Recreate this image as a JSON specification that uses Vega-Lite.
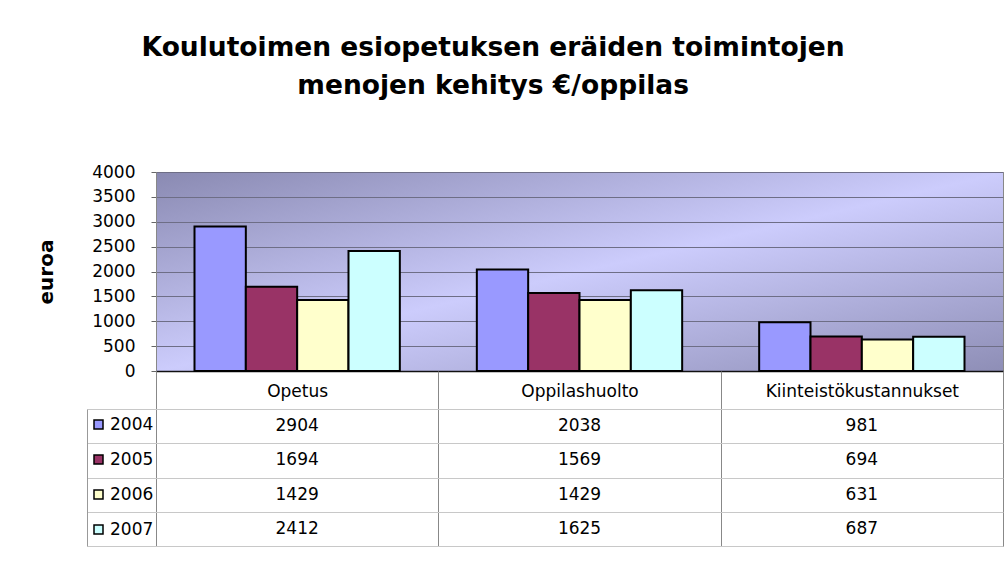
{
  "$schema": "https://vega.github.io/schema/vega-lite/v6.json",
  "padding": {"left": 36, "top": 35, "right": 4, "bottom": 20},
  "background": "white",
  "config": {"font": "DejaVu Sans"},
  "title": {
    "text": ["Koulutoimen esiopetuksen eräiden toimintojen", "menojen kehitys €/oppilas"],
    "font": "DejaVu Sans",
    "fontSize": 26.5,
    "fontWeight": "bold",
    "lineHeight": 38,
    "color": "black",
    "anchor": "middle",
    "dx": -27,
    "offset": 63
  },
  "data": {
    "values": [
      {"category": "Opetus", "year": "2004", "value": 2904},
      {"category": "Opetus", "year": "2005", "value": 1694},
      {"category": "Opetus", "year": "2006", "value": 1429},
      {"category": "Opetus", "year": "2007", "value": 2412},
      {"category": "Oppilashuolto", "year": "2004", "value": 2038},
      {"category": "Oppilashuolto", "year": "2005", "value": 1569},
      {"category": "Oppilashuolto", "year": "2006", "value": 1429},
      {"category": "Oppilashuolto", "year": "2007", "value": 1625},
      {"category": "Kiinteistökustannukset", "year": "2004", "value": 981},
      {"category": "Kiinteistökustannukset", "year": "2005", "value": 694},
      {"category": "Kiinteistökustannukset", "year": "2006", "value": 631},
      {"category": "Kiinteistökustannukset", "year": "2007", "value": 687}
    ]
  },
  "bounds": "flush",
  "spacing": 38,
  "resolve": {"scale": {"x": "shared"}, "legend": {"fill": "independent"}},
  "vconcat": [
    {
      "width": 847,
      "height": 199,
      "view": {
        "stroke": "#888888",
        "fill": {
          "gradient": "linear",
          "x1": 0, "y1": 0, "x2": 1, "y2": 1,
          "stops": [
            {"offset": 0, "color": "#8A8AB2"},
            {"offset": 0.5, "color": "#CCCCFC"},
            {"offset": 1, "color": "#8E8EB6"}
          ]
        }
      },
      "mark": {"type": "bar", "stroke": "black", "strokeWidth": 2},
      "encoding": {
        "x": {
          "field": "category",
          "type": "nominal",
          "sort": ["Opetus", "Oppilashuolto", "Kiinteistökustannukset"],
          "scale": {"paddingInner": 0, "paddingOuter": 0},
          "axis": {"title": null, "labels": false, "ticks": false, "domainColor": "#111111", "domainWidth": 1.5}
        },
        "xOffset": {
          "field": "year",
          "type": "nominal",
          "scale": {"paddingInner": 0, "paddingOuter": 0.75}
        },
        "y": {
          "field": "value",
          "type": "quantitative",
          "scale": {"domain": [0, 4000], "nice": false},
          "axis": {
            "title": "euroa",
            "titleFont": "DejaVu Sans",
            "titleFontSize": 20,
            "titleFontWeight": "bold",
            "titleColor": "black",
            "titlePadding": 35,
            "values": [0, 500, 1000, 1500, 2000, 2500, 3000, 3500, 4000],
            "format": "d",
            "labelFont": "DejaVu Sans",
            "labelFontSize": 17,
            "labelColor": "black",
            "labelPadding": 16,
            "tickSize": 5,
            "tickColor": "#666666",
            "domainColor": "#888888",
            "grid": true,
            "gridColor": "#6E6E86",
            "gridOpacity": 1,
            "gridWidth": 1.2
          }
        },
        "fill": {
          "field": "year",
          "type": "nominal",
          "scale": {"domain": ["2004", "2005", "2006", "2007"], "range": ["#9999FF", "#993366", "#FFFFCC", "#CCFFFF"]},
          "legend": {
            "title": null,
            "orient": "none",
            "legendX": -66,
            "legendY": 244,
            "direction": "vertical",
            "padding": 0,
            "symbolType": "square",
            "symbolSize": 81,
            "symbolStrokeColor": "black",
            "symbolStrokeWidth": 1.5,
            "labelFont": "DejaVu Sans",
            "labelFontSize": 17,
            "labelColor": "black",
            "labelOffset": 3,
            "rowPadding": 17
          }
        }
      }
    },
    {
      "width": 847,
      "height": 137,
      "view": {"stroke": "#999999"},
      "mark": {"type": "text", "font": "DejaVu Sans", "fontSize": 17, "color": "black"},
      "encoding": {
        "x": {
          "field": "category",
          "type": "nominal",
          "sort": ["Opetus", "Oppilashuolto", "Kiinteistökustannukset"],
          "scale": {"paddingInner": 0, "paddingOuter": 0},
          "axis": {
            "orient": "top",
            "title": null,
            "labelFont": "DejaVu Sans",
            "labelFontSize": 17,
            "labelColor": "black",
            "labelAngle": 0,
            "labelLimit": 0,
            "labelPadding": -29,
            "tickBand": "extent",
            "tickSize": 38,
            "tickColor": "#888888",
            "domainColor": "#999999",
            "grid": true,
            "gridColor": "#888888",
            "gridOpacity": 1
          }
        },
        "y": {
          "field": "year",
          "type": "ordinal",
          "scale": {"paddingInner": 0, "paddingOuter": 0},
          "axis": {
            "title": null,
            "labels": false,
            "tickBand": "extent",
            "offset": 69,
            "tickSize": -916,
            "tickColor": "#C8C8C8",
            "domainColor": "#999999",
            "grid": false
          }
        },
        "text": {"field": "value", "type": "quantitative", "format": "d"}
      }
    }
  ]
}
